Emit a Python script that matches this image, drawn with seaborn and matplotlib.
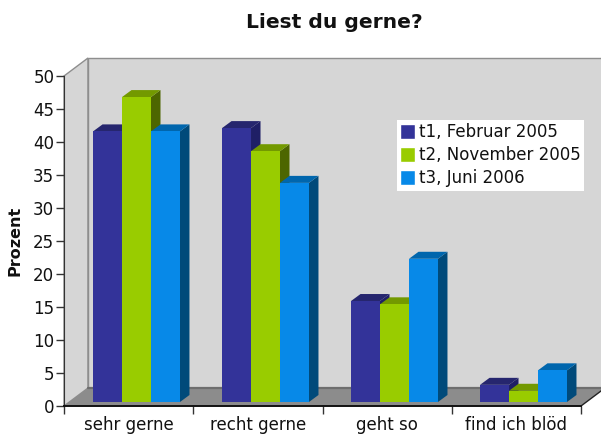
import numpy as np
import pandas as pd
import seaborn as sns
import matplotlib.pyplot as plt
from matplotlib.patches import Polygon

categories = ['sehr gerne', 'recht gerne', 'geht so', 'find ich blöd']
series_names = ['t1, Februar 2005', 't2, November 2005', 't3, Juni 2006']
t1_values = [41.0, 41.5, 15.3, 2.6]
t2_values = [46.2, 38.0, 14.8, 1.7]
t3_values = [41.0, 33.2, 21.7, 4.8]
y_ticks = [0, 5, 10, 15, 20, 25, 30, 35, 40, 45, 50]

W, H = 601, 434
front_colors = ['#333399', '#99CC00', '#0789E8']
top_colors = ['#26266E', '#739900', '#0066AD']
side_colors = ['#1F1F66', '#4D6600', '#004A7A']

sns.set_style('white')
plt.rcParams['font.family'] = ['DejaVu Sans']
plt.rcParams['text.color'] = '#111111'
plt.rcParams['xtick.color'] = '#111111'
plt.rcParams['ytick.color'] = '#111111'

# long format for seaborn
df = pd.DataFrame({
    'kategorie': categories * 3,
    'zeit': np.repeat(series_names, 4),
    'prozent': t1_values + t2_values + t3_values,
})

fig = plt.figure(figsize=(W / 100, H / 100), dpi=100, facecolor='white')


def box(left, top, right, bottom):
    # axes rectangle from pixel positions (y from the top)
    return [left / W, 1 - bottom / H, (right - left) / W, (bottom - top) / H]


def fig_xy(points):
    return [(x / W, 1 - y / H) for x, y in points]


# --- walls and floor ---
walls = [
    ([(64, 76), (88, 58), (88, 388), (64, 406)], '#D6D6D6', '#8E8E8E'),
    ([(88, 58), (605, 58), (605, 388), (88, 388)], '#D6D6D6', '#8E8E8E'),
    ([(64, 406), (88, 388), (605, 388), (581, 406)], '#8C8C8C', 'none'),
]
for pts, face, edge in walls:
    fig.add_artist(Polygon(fig_xy(pts), closed=True, facecolor=face, edgecolor=edge,
                           linewidth=1, transform=fig.transFigure, zorder=0))
fig.add_artist(plt.Line2D([88 / W, 601 / W], [1 - 388 / H, 1 - 388 / H], color='#6E6E6E',
                          linewidth=1.6, zorder=0.5))
fig.add_artist(plt.Line2D([581 / W, 605 / W], [1 - 406 / H, 1 - 388 / H], color='#222222',
                          linewidth=1, zorder=0.5))

# --- front axis with ticks ---
ax_front = fig.add_axes(box(64, 76, 581, 406), facecolor='none', zorder=1)
ax_front.set_xlim(0, 4)
ax_front.set_ylim(0, 50)
ax_front.set_yticks(y_ticks)
ax_front.set_xticks([0, 1, 2, 3, 4])
ax_front.set_xticklabels([])
ax_front.set_xticks([0.5, 1.5, 2.5, 3.5], minor=True)
ax_front.set_xticklabels(categories, minor=True, fontsize=12)
ax_front.tick_params(axis='y', which='major', left=True, length=6, width=1, color='#333333',
                     labelsize=12, pad=1)
ax_front.tick_params(axis='x', which='major', bottom=True, length=6, width=1, color='#333333')
ax_front.tick_params(axis='x', which='minor', bottom=False, length=0, pad=7.5)
for name in ['top', 'right']:
    ax_front.spines[name].set_visible(False)
ax_front.spines['left'].set_color('#333333')
ax_front.spines['bottom'].set_color('#111111')
ax_front.spines['bottom'].set_linewidth(1.4)

fig.text(15 / W, 1 - 241 / H, 'Prozent', rotation=90, ha='center', va='center',
         fontsize=11.5, fontweight='bold')
fig.text(334.5 / W, 1 - 22 / H, 'Liest du gerne?', ha='center', va='center',
         fontsize=14.6, fontweight='bold')

# --- bars on their own plane, shifted slightly into the depth ---
ax = fig.add_axes(box(72, 72, 588, 402), facecolor='none', zorder=2)
sns.barplot(data=df, x='kategorie', y='prozent', hue='zeit', order=categories,
            hue_order=series_names, palette=front_colors, saturation=1, width=0.674,
            gap=0, dodge=True, ax=ax)
ax.set_xlim(-0.5, 3.5)
ax.set_ylim(0, 50)

depth_x, depth_y = 9.5, 7
to_px = ax.transData
from_px = ax.transData.inverted()
bars = []
for i, container in enumerate(ax.containers):
    for patch in container:
        bars.append((patch.get_x(), i, patch))
bars.sort(key=lambda b: b[0])

# paint from left to right so right bars cover left ones
for n, (_, i, patch) in enumerate(bars):
    patch.set_edgecolor('none')
    patch.set_zorder(3 + n * 3 + 2)
    x0, y0 = to_px.transform((patch.get_x(), 0))
    x1, y1 = to_px.transform((patch.get_x() + patch.get_width(), patch.get_height()))
    top = [(x0, y1), (x1, y1), (x1 + depth_x, y1 + depth_y), (x0 + depth_x, y1 + depth_y)]
    side = [(x1, y0), (x1, y1), (x1 + depth_x, y1 + depth_y), (x1 + depth_x, y0 + depth_y)]
    ax.add_patch(Polygon(from_px.transform(side), closed=True, facecolor=side_colors[i],
                         edgecolor='none', clip_on=False, zorder=3 + n * 3))
    ax.add_patch(Polygon(from_px.transform(top), closed=True, facecolor=top_colors[i],
                         edgecolor='none', clip_on=False, zorder=3 + n * 3 + 1))

handles, labels = ax.get_legend_handles_labels()
leg = ax.legend(handles, labels, loc='upper left', bbox_to_anchor=(397 / W, 1 - 120 / H),
                bbox_transform=fig.transFigure, borderaxespad=0, frameon=True, fancybox=False,
                framealpha=1, facecolor='white', edgecolor='none', fontsize=12,
                handlelength=0.88, handleheight=0.95, handletextpad=0.22, labelspacing=0.3,
                borderpad=0.2, title=None)
leg.set_zorder(100)
ax.set_axis_off()

fig.savefig('out.png', dpi=100)
